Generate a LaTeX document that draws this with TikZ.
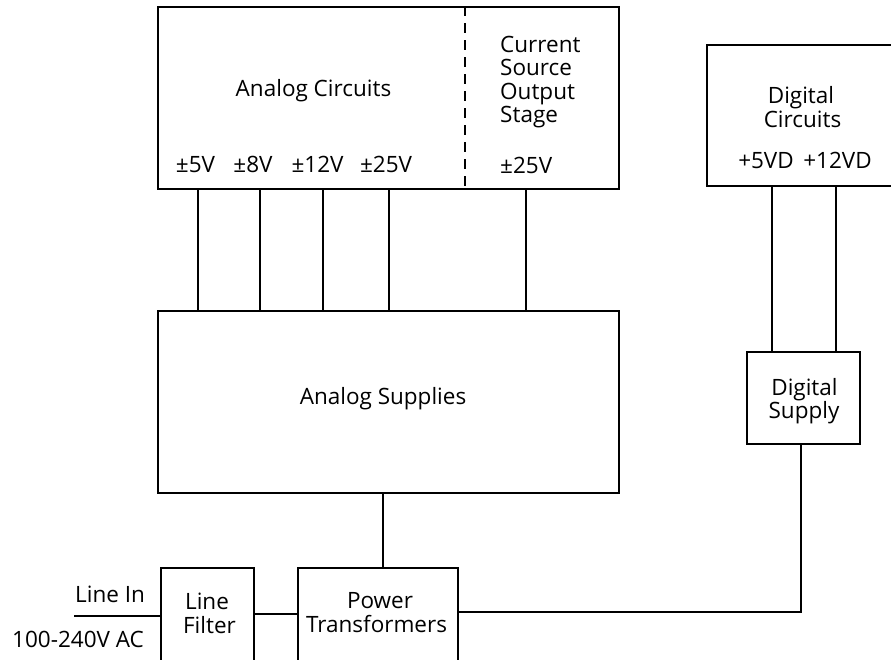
\documentclass[tikz,border=0pt]{standalone}
\usepackage{fontspec}
\setmainfont{Open Sans}
\begin{document}
\begin{tikzpicture}[x=1pt,y=-1pt,
  box/.style={draw, line width=1.8pt, rectangle, inner sep=0pt},
  conn/.style={line width=1.8pt},
  divider/.style={line width=1.8pt, dash pattern=on 10pt off 7pt},
  lbl/.style={font=\fontsize{22.5}{23.5}\selectfont, inner sep=0pt, anchor=base},
  lblw/.style={lbl, anchor=base west},
]
\useasboundingbox (0,0) rectangle (891,659);
\clip (0,0) rectangle (891,659);
% boxes
\node[box, minimum width=461pt, minimum height=182pt] (ac) at (388.5,98) {};
\node[box, minimum width=461pt, minimum height=182pt] (as) at (388.5,402) {};
\node[box, minimum width=213pt, minimum height=141pt] (dc) at (813.5,115.5) {};
\node[box, minimum width=113pt, minimum height=92pt] (ds) at (803.5,398) {};
\node[box, minimum width=93pt, minimum height=132pt] (lf) at (207.5,634) {};
\node[box, minimum width=160pt, minimum height=132pt] (pt) at (378,634) {};
% texts
\node[lbl] (tac) at (313.5,96) {Analog Circuits};
\node[lbl] (v5) at (195.5,172) {±5V};
\node[lbl] (v8) at (253,172) {±8V};
\node[lbl] (v12) at (317.5,172) {±12V};
\node[lbl] (v25) at (386,172) {±25V};
\node[lblw] (cs1) at (500,52) {Current};
\node[lblw] (cs2) at (500,75) {Source};
\node[lblw] (cs3) at (500,99) {Output};
\node[lblw] (cs4) at (500,122) {Stage};
\node[lblw] (cs5) at (500,173) {±25V};
\node[lbl] (dc1) at (801,103) {Digital};
\node[lbl] (dc2) at (802.5,127) {Circuits};
\node[lbl] (dc3) at (805,168) {+5VD\ \,+12VD};
\node[lbl] (ds1) at (804.5,395) {Digital};
\node[lbl] (ds2) at (804,418) {Supply};
\node[lbl] (tas) at (383,404) {Analog Supplies};
\node[lblw] (lin) at (75,602) {Line In};
\node[lblw] (lac) at (12,647) {100-240V AC};
\node[lbl] (lf1) at (207,609) {Line};
\node[lbl] (lf2) at (209.5,633) {Filter};
\node[lbl] (pt1) at (380,608) {Power};
\node[lbl] (pt2) at (376.5,632) {Transformers};
% divider
\coordinate (dv) at (465,0);
\draw[divider] (ac.north -| dv) -- (ac.south -| dv);
% taps
\foreach \n/\x in {t1/198,t2/260,t3/323,t4/389,t5/526}{
  \coordinate (\n) at (\x,250);
  \draw[conn] (ac.south -| \n) -- (as.north -| \n);
}
\coordinate (d1) at (772,250);
\coordinate (d2) at (836,250);
\draw[conn] (dc.south -| d1) -- (ds.north -| d1);
\draw[conn] (dc.south -| d2) -- (ds.north -| d2);
% analog supplies to transformers
\coordinate (m) at (383,530);
\draw[conn] (as.south -| m) -- (pt.north -| m);
% line in
\coordinate (li) at (74,616);
\draw[conn] (li) -- (li -| lf.west);
\coordinate (fy) at (270,614);
\draw[conn] (lf.east |- fy) -- (pt.west |- fy);
\coordinate (k) at (801,612);
\draw[conn] (pt.east |- k) -- (k) -- (ds.south -| k);
\end{tikzpicture}
\end{document}
